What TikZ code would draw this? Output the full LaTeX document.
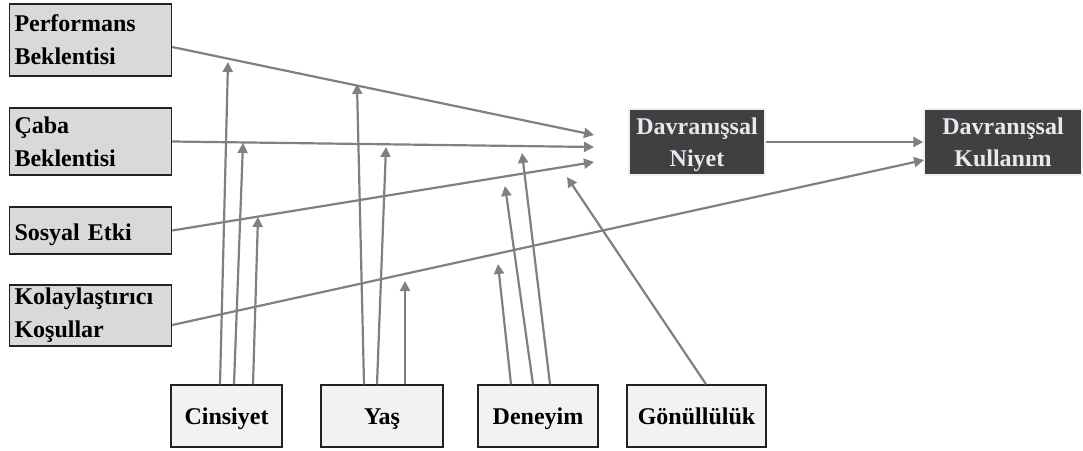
\documentclass[tikz,border=0pt]{standalone}
\usepackage{fontspec}
\setmainfont{Liberation Serif}
\usetikzlibrary{arrows.meta}
\definecolor{factorfill}{HTML}{D9D9D9}
\definecolor{modfill}{HTML}{F2F2F2}
\definecolor{darkfill}{HTML}{404040}
\definecolor{darktext}{HTML}{E4EAF2}
\definecolor{linkgray}{HTML}{808080}
\definecolor{boxline}{HTML}{222222}
\tikzset{
  factor/.style={draw=boxline, line width=1.5pt, fill=factorfill, minimum width=162pt,
    inner xsep=4pt, text width=152pt, align=left,
    font=\fontsize{24}{33}\selectfont\bfseries},
  moderator/.style={draw=boxline, line width=1.5pt, fill=modfill, minimum height=62pt,
    align=center, text height=16.5pt, text depth=0pt,
    font=\fontsize{24}{33}\selectfont\bfseries},
  outcome/.style={draw=gray!12, line width=1.5pt, fill=darkfill, text=darktext,
    minimum height=66pt, align=center, text depth=0pt,
    font=\fontsize{24}{32}\selectfont\bfseries},
  link/.style={draw=linkgray, line width=2.2pt, -{Triangle[length=10pt,width=10pt]}},
}
\begin{document}
\begin{tikzpicture}[x=1pt,y=-1pt]
\useasboundingbox (0,0) rectangle (1083,450);

% constructs on the left
\node[factor, minimum height=72pt] (pb) at (90.5,40) {Performans\\Beklentisi};
\node[factor, minimum height=67pt] (cb) at (90.5,141.5) {Çaba\\Beklentisi};
\node[factor, minimum height=47pt] (se) at (90.5,230.5) {\raisebox{-4pt}[16.5pt][5.3pt]{Sosyal Etki}};
\node[factor, minimum height=57pt] (kk) at (90.5,315.5) {Kolaylaştırıcı\\Koşullar};

% moderators at the bottom
\node[moderator, minimum width=111pt] (cin) at (226.5,416) {Cinsiyet};
\node[moderator, minimum width=122pt] (yas) at (382,416) {Yaş};
\node[moderator, minimum width=120pt] (den) at (538,416) {Deneyim};
\node[moderator, minimum width=139pt] (gon) at (696.5,416) {Gönüllülük};

% outcomes
\node[outcome, minimum width=136pt] (niyet) at (697,142) {Davranışsal\\Niyet};
\node[outcome, minimum width=158pt] (kul) at (1003,142) {Davranışsal\\Kullanım};

% arrow ends near the intention box
\coordinate (pbend) at (594,135);
\coordinate (cbend) at (594,147);
\coordinate (seend) at (594,162);
\coordinate (kkend) at (924,160);

% moderator arrow ends
\coordinate (cin1) at (228,62);
\coordinate (cin2) at (243,143);
\coordinate (cin3) at (258,217);
\coordinate (yas1) at (357,84);
\coordinate (yas2) at (386,147);
\coordinate (yas3) at (405,281);
\coordinate (den1) at (498,264);
\coordinate (den2) at (505,186);
\coordinate (den3) at (522,153);
\coordinate (gon1) at (567,177);

% main paths
\draw[link] ([yshift=-7pt]pb.east) -- (pbend);
\draw[link] (cb.east) -- (cbend);
\draw[link] (se.east) -- (seend);
\draw[link] ([yshift=-9.5pt]kk.east) -- (kkend);
\draw[link] (niyet.east) -- (kul.west);

% moderating effects
\draw[link] ([xshift=-6.5pt]cin.north) -- (cin1);
\draw[link] ([xshift=7.5pt]cin.north) -- (cin2);
\draw[link] ([xshift=26.5pt]cin.north) -- (cin3);
\draw[link] ([xshift=-18pt]yas.north) -- (yas1);
\draw[link] ([xshift=-5pt]yas.north) -- (yas2);
\draw[link] ([xshift=23pt]yas.north) -- (yas3);
\draw[link] ([xshift=-27pt]den.north) -- (den1);
\draw[link] ([xshift=-5pt]den.north) -- (den2);
\draw[link] ([xshift=12pt]den.north) -- (den3);
\draw[link] ([xshift=9.5pt]gon.north) -- (gon1);
\end{tikzpicture}
\end{document}
